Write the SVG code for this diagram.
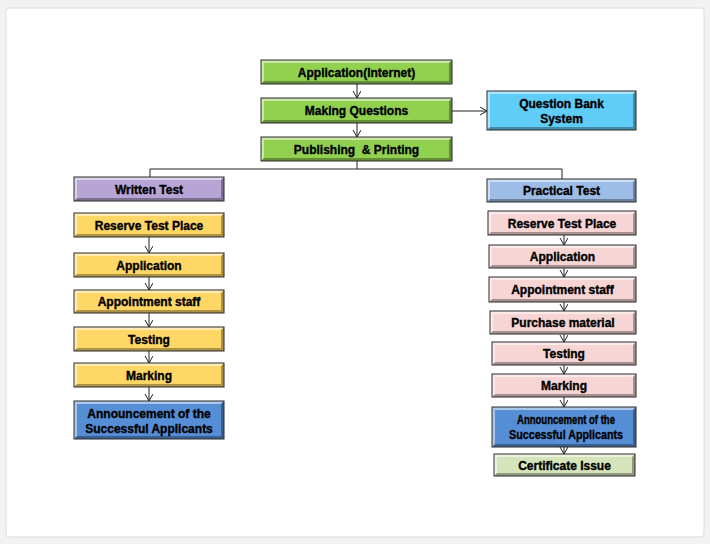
<svg xmlns="http://www.w3.org/2000/svg" width="710" height="544" viewBox="0 0 710 544">
<defs>
<style>
.t{font-family:"Liberation Sans",Arial,sans-serif;font-weight:bold;font-size:12px;fill:#000;stroke:#000;stroke-width:0.35;text-anchor:middle}
.b{stroke:#2a2a2a;stroke-width:1}
.hl{fill:#fff;fill-opacity:0.5}
.sh{fill:#000;fill-opacity:0.32}
.c{fill:none;stroke:#222;stroke-width:1}
.green{fill:#92d050}.qb{fill:#5fcdf8}.purple{fill:#b7a5d6}.yellow{fill:#ffd766}
.ann{fill:#558ed5}.pblue{fill:#9dbde6}.pink{fill:#f6d5d4}.cert{fill:#d6e4bb}
</style>
<marker id="ah" markerWidth="10" markerHeight="10" refX="7" refY="4" orient="auto" markerUnits="userSpaceOnUse">
<path d="M0,0 L7,4 L0,8" fill="none" stroke="#222" stroke-width="1"/>
</marker>
</defs>
<rect x="0" y="0" width="710" height="544" fill="#f2f2f2"/>
<rect x="6" y="8" width="698" height="529" rx="3" fill="#fff" stroke="#dcdcdc"/>

<g id="connectors" class="c">
<line x1="357" y1="84" x2="357" y2="98" marker-end="url(#ah)"/>
<line x1="357" y1="123" x2="357" y2="137" marker-end="url(#ah)"/>
<line x1="452" y1="111" x2="487" y2="111" marker-end="url(#ah)"/>
<polyline points="357,161 357,169"/>
<polyline points="150,177 150,169 562,169 562,179"/>
<line x1="149" y1="237" x2="149" y2="253" marker-end="url(#ah)"/>
<line x1="149" y1="277" x2="149" y2="290" marker-end="url(#ah)"/>
<line x1="149" y1="313" x2="149" y2="327" marker-end="url(#ah)"/>
<line x1="149" y1="351" x2="149" y2="363" marker-end="url(#ah)"/>
<line x1="149" y1="387" x2="149" y2="401" marker-end="url(#ah)"/>
<line x1="564" y1="235" x2="564" y2="245" marker-end="url(#ah)"/>
<line x1="564" y1="268" x2="564" y2="277" marker-end="url(#ah)"/>
<line x1="564" y1="302" x2="564" y2="311" marker-end="url(#ah)"/>
<line x1="564" y1="334" x2="564" y2="342" marker-end="url(#ah)"/>
<line x1="564" y1="365" x2="564" y2="374" marker-end="url(#ah)"/>
<line x1="564" y1="397" x2="564" y2="407" marker-end="url(#ah)"/>
<line x1="564" y1="447" x2="564" y2="454" marker-end="url(#ah)"/>
</g>

<g id="app-internet">
<rect class="green" x="261" y="60" width="191" height="24"/>
<path class="hl" d="M261,60 H452 L449,63 H264 V81 L261,84 Z"/>
<path class="sh" d="M452,60 V84 H261 L264,81 H449 V63 Z"/>
<rect class="b" x="261" y="60" width="191" height="24" fill="none"/>
<text class="t" x="356.5" y="76.5">Application(Internet)</text>
</g>
<g id="making-questions">
<rect class="green" x="261" y="98" width="191" height="25"/>
<path class="hl" d="M261,98 H452 L449,101 H264 V120 L261,123 Z"/>
<path class="sh" d="M452,98 V123 H261 L264,120 H449 V101 Z"/>
<rect class="b" x="261" y="98" width="191" height="25" fill="none"/>
<text class="t" x="356.5" y="115">Making Questions</text>
</g>
<g id="publishing">
<rect class="green" x="261" y="137" width="191" height="24"/>
<path class="hl" d="M261,137 H452 L449,140 H264 V158 L261,161 Z"/>
<path class="sh" d="M452,137 V161 H261 L264,158 H449 V140 Z"/>
<rect class="b" x="261" y="137" width="191" height="24" fill="none"/>
<text class="t" x="356.5" y="153.5" xml:space="preserve">Publishing  &amp; Printing</text>
</g>
<g id="question-bank">
<rect class="qb" x="487" y="91" width="149" height="39"/>
<path class="hl" d="M487,91 H636 L633,94 H490 V127 L487,130 Z"/>
<path class="sh" d="M636,91 V130 H487 L490,127 H633 V94 Z"/>
<rect class="b" x="487" y="91" width="149" height="39" fill="none"/>
<text class="t" x="561.5" y="108">Question Bank</text>
<text class="t" x="561.5" y="123">System</text>
</g>

<g id="written-test">
<rect class="purple" x="74" y="177" width="150" height="24"/>
<path class="hl" d="M74,177 H224 L221,180 H77 V198 L74,201 Z"/>
<path class="sh" d="M224,177 V201 H74 L77,198 H221 V180 Z"/>
<rect class="b" x="74" y="177" width="150" height="24" fill="none"/>
<text class="t" x="149" y="193.5">Written Test</text>
</g>
<g id="w-reserve">
<rect class="yellow" x="74" y="213" width="150" height="24"/>
<path class="hl" d="M74,213 H224 L221,216 H77 V234 L74,237 Z"/>
<path class="sh" d="M224,213 V237 H74 L77,234 H221 V216 Z"/>
<rect class="b" x="74" y="213" width="150" height="24" fill="none"/>
<text class="t" x="149" y="229.5">Reserve Test Place</text>
</g>
<g id="w-application">
<rect class="yellow" x="74" y="253" width="150" height="24"/>
<path class="hl" d="M74,253 H224 L221,256 H77 V274 L74,277 Z"/>
<path class="sh" d="M224,253 V277 H74 L77,274 H221 V256 Z"/>
<rect class="b" x="74" y="253" width="150" height="24" fill="none"/>
<text class="t" x="149" y="269.5">Application</text>
</g>
<g id="w-appointment">
<rect class="yellow" x="74" y="290" width="150" height="23"/>
<path class="hl" d="M74,290 H224 L221,293 H77 V310 L74,313 Z"/>
<path class="sh" d="M224,290 V313 H74 L77,310 H221 V293 Z"/>
<rect class="b" x="74" y="290" width="150" height="23" fill="none"/>
<text class="t" x="149" y="306">Appointment staff</text>
</g>
<g id="w-testing">
<rect class="yellow" x="74" y="327" width="150" height="24"/>
<path class="hl" d="M74,327 H224 L221,330 H77 V348 L74,351 Z"/>
<path class="sh" d="M224,327 V351 H74 L77,348 H221 V330 Z"/>
<rect class="b" x="74" y="327" width="150" height="24" fill="none"/>
<text class="t" x="149" y="343.5">Testing</text>
</g>
<g id="w-marking">
<rect class="yellow" x="74" y="363" width="150" height="24"/>
<path class="hl" d="M74,363 H224 L221,366 H77 V384 L74,387 Z"/>
<path class="sh" d="M224,363 V387 H74 L77,384 H221 V366 Z"/>
<rect class="b" x="74" y="363" width="150" height="24" fill="none"/>
<text class="t" x="149" y="379.5">Marking</text>
</g>
<g id="w-announcement">
<rect class="ann" x="74" y="401" width="150" height="38"/>
<path class="hl" d="M74,401 H224 L221,404 H77 V436 L74,439 Z"/>
<path class="sh" d="M224,401 V439 H74 L77,436 H221 V404 Z"/>
<rect class="b" x="74" y="401" width="150" height="38" fill="none"/>
<text class="t" x="149" y="417.5">Announcement of the</text>
<text class="t" x="149" y="432.5">Successful Applicants</text>
</g>

<g id="practical-test">
<rect class="pblue" x="487" y="179" width="149" height="23"/>
<path class="hl" d="M487,179 H636 L633,182 H490 V199 L487,202 Z"/>
<path class="sh" d="M636,179 V202 H487 L490,199 H633 V182 Z"/>
<rect class="b" x="487" y="179" width="149" height="23" fill="none"/>
<text class="t" x="561.5" y="195">Practical Test</text>
</g>
<g id="p-reserve">
<rect class="pink" x="488" y="211" width="148" height="24"/>
<path class="hl" d="M488,211 H636 L633,214 H491 V232 L488,235 Z"/>
<path class="sh" d="M636,211 V235 H488 L491,232 H633 V214 Z"/>
<rect class="b" x="488" y="211" width="148" height="24" fill="none"/>
<text class="t" x="562" y="227.5">Reserve Test Place</text>
</g>
<g id="p-application">
<rect class="pink" x="489" y="245" width="147" height="23"/>
<path class="hl" d="M489,245 H636 L633,248 H492 V265 L489,268 Z"/>
<path class="sh" d="M636,245 V268 H489 L492,265 H633 V248 Z"/>
<rect class="b" x="489" y="245" width="147" height="23" fill="none"/>
<text class="t" x="562.5" y="261">Application</text>
</g>
<g id="p-appointment">
<rect class="pink" x="489" y="277" width="147" height="25"/>
<path class="hl" d="M489,277 H636 L633,280 H492 V299 L489,302 Z"/>
<path class="sh" d="M636,277 V302 H489 L492,299 H633 V280 Z"/>
<rect class="b" x="489" y="277" width="147" height="25" fill="none"/>
<text class="t" x="562.5" y="294">Appointment staff</text>
</g>
<g id="p-purchase">
<rect class="pink" x="490" y="311" width="146" height="23"/>
<path class="hl" d="M490,311 H636 L633,314 H493 V331 L490,334 Z"/>
<path class="sh" d="M636,311 V334 H490 L493,331 H633 V314 Z"/>
<rect class="b" x="490" y="311" width="146" height="23" fill="none"/>
<text class="t" x="563" y="327">Purchase material</text>
</g>
<g id="p-testing">
<rect class="pink" x="492" y="342" width="144" height="23"/>
<path class="hl" d="M492,342 H636 L633,345 H495 V362 L492,365 Z"/>
<path class="sh" d="M636,342 V365 H492 L495,362 H633 V345 Z"/>
<rect class="b" x="492" y="342" width="144" height="23" fill="none"/>
<text class="t" x="564" y="358">Testing</text>
</g>
<g id="p-marking">
<rect class="pink" x="492" y="374" width="144" height="23"/>
<path class="hl" d="M492,374 H636 L633,377 H495 V394 L492,397 Z"/>
<path class="sh" d="M636,374 V397 H492 L495,394 H633 V377 Z"/>
<rect class="b" x="492" y="374" width="144" height="23" fill="none"/>
<text class="t" x="564" y="390">Marking</text>
</g>
<g id="p-announcement">
<rect class="ann" x="492" y="407" width="144" height="40"/>
<path class="hl" d="M492,407 H636 L633,410 H495 V444 L492,447 Z"/>
<path class="sh" d="M636,407 V447 H492 L495,444 H633 V410 Z"/>
<rect class="b" x="492" y="407" width="144" height="40" fill="none"/>
<text class="t" x="566" y="424" textLength="98" lengthAdjust="spacingAndGlyphs">Announcement of the</text>
<text class="t" x="566" y="439" textLength="114" lengthAdjust="spacingAndGlyphs">Successful Applicants</text>
</g>
<g id="p-certificate">
<rect class="cert" x="494" y="454" width="141" height="22"/>
<path class="hl" d="M494,454 H635 L632,457 H497 V473 L494,476 Z"/>
<path class="sh" d="M635,454 V476 H494 L497,473 H632 V457 Z"/>
<rect class="b" x="494" y="454" width="141" height="22" fill="none"/>
<text class="t" x="564.5" y="469.5">Certificate Issue</text>
</g>
</svg>
